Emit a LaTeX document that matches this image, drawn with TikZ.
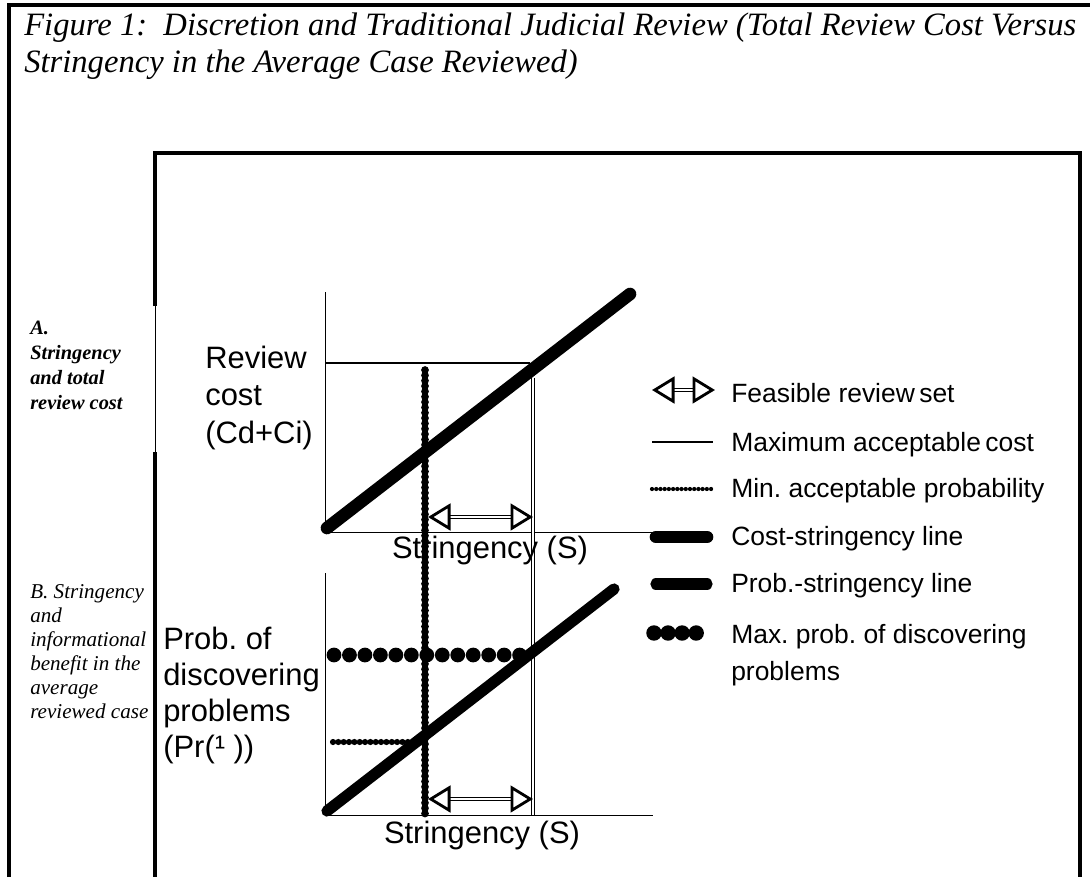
\documentclass[tikz,border=0pt]{standalone}
\usepackage{fontspec}
\setmainfont{Liberation Serif}
\newfontfamily\arialfont{Liberation Sans}
\frenchspacing
\usetikzlibrary{arrows.meta, positioning}
\tikzset{
	frameline/.style={
			line width=2.2pt
		},
	axisline/.style={
			line width=0.7pt
		},
	costline/.style={
			line width=9pt,
			line cap=round
		},
	probline/.style={
			line width=8pt,
			line cap=round
		},
	maxcostline/.style={
			line width=1.2pt
		},
	boundline/.style={
			double,
			double distance=1.4pt,
			line width=0.6pt
		},
	minprobline/.style={
			line width=5.5pt,
			line cap=round,
			dash pattern=on 0pt off 3.8pt
		},
	maxprobline/.style={
			line width=10.5pt,
			line cap=round,
			dash pattern=on 0pt off 11pt
		},
	feasarrow/.style={
			double,
			double distance=1.2pt,
			line width=1.1pt,
			{Triangle[open, fill=white, length=16pt, width=19pt, line width=2pt]}-{Triangle[open, fill=white, length=16pt, width=19pt, line width=2pt]}
		}
}
\tikzset{
	titletext/.style={font=\fontsize{23.2}{26.2}\selectfont\itshape, inner sep=0pt, align=left, anchor=base west},
	paneltext/.style={font=\fontsize{15}{17}\selectfont\itshape, inner sep=0pt, align=left, anchor=base west},
	axistext/.style={font=\arialfont\fontsize{22}{26.5}\selectfont, inner sep=0pt, align=left, anchor=base west},
	keytext/.style={font=\arialfont\fontsize{18.8}{26}\selectfont, inner sep=0pt, align=left, anchor=base west}
}

\begin{document}
\begin{tikzpicture}[x=0.025cm, y=-0.025cm]

              \useasboundingbox (0,0) rectangle (1090,877);

              % frames
              \draw[frameline] (9,877) -- (9,5) -- (1090,5);
              \draw[frameline] (155,306) -- (155,153) -- (1080,153) -- (1080,877);
              \draw[axisline] (155,306) -- (155,452);
              \draw[frameline] (155,452) -- (155,877);

              % multi-line nodes sit on their last baseline
              \node[titletext] (title) at (24,72) {Figure 1:\ \ Discretion and Traditional Judicial Review (Total Review Cost Versus\\Stringency in the Average Case Reviewed)};

              \node[paneltext, font=\fontsize{14.5}{17.7}\selectfont\bfseries\itshape] (pa) at (30,409) {A.\\Stringency\\and total\\review cost};
              \node[paneltext] (pb) at (30,718) {B. Stringency\\and\\informational\\benefit in the\\average\\reviewed case};

              % upper panel
              \coordinate (ua) at (325,292);
              \coordinate (uo) at (325,532);
              \coordinate (ux) at (653,532);
              \coordinate (mc) at (530,363);
              \coordinate (mcy) at (325,363);
              \coordinate (c1) at (327,528);
              \coordinate (c2) at (630,294);

              % lower panel
              \coordinate (la) at (325,573);
              \coordinate (lo) at (325,815);
              \coordinate (lx) at (653,815);
              \coordinate (p1) at (327,811);
              \coordinate (p2) at (614,589);

              \coordinate (bt) at (533,378);
              \coordinate (bb) at (533,815);
              \coordinate (mpt) at (425,370);
              \coordinate (mpb) at (425,817);
              \coordinate (mph1) at (333,742);
              \coordinate (mph2) at (425,742);
              \coordinate (xp1) at (334,655);
              \coordinate (xp2) at (520,655);

              \draw[axisline] (ua) -- (uo) -- (ux);
              \draw[axisline] (la) -- (lo) -- (lx);
              \draw[maxcostline] (mcy) -- (mc);
              \draw[boundline] (bt) -- (bb);
              \draw[maxprobline] (xp1) -- (xp2);
              \draw[costline] (c1) -- (c2);
              \draw[probline] (p1) -- (p2);
              \draw[minprobline, line width=4.4pt] (mph1) -- (mph2);
              \draw[minprobline] (mpt) -- (mpb);

              \coordinate (fu1) at (428,517);
              \coordinate (fu2) at (533,517);
              \coordinate (fl1) at (428,799);
              \coordinate (fl2) at (533,799);
              \draw[feasarrow] (fu1) -- (fu2);
              \draw[feasarrow] (fl1) -- (fl2);

              \node[axistext] (rc) at (205,443) {Review\\cost\\(Cd+Ci)};
              \node[axistext, font=\arialfont\fontsize{22}{25.5}\selectfont] (pd) at (163,757) {Prob. of\\discovering\\problems\\(Pr(¹ ))};
              \node[axistext, anchor=base] (su) at (490,558) {Stringency (S)};
              \node[axistext, anchor=base] (sl) at (482,843) {Stringency (S)};

              % legend
              \coordinate (k1a) at (652,390);
              \coordinate (k1b) at (715,390);
              \coordinate (k2a) at (652,442);
              \coordinate (k2b) at (713,442);
              \coordinate (k3a) at (652,489);
              \coordinate (k3b) at (712,489);
              \coordinate (k4a) at (656,537);
              \coordinate (k4b) at (707,537);
              \coordinate (k5a) at (656,584);
              \coordinate (k5b) at (707,584);
              \coordinate (k6a) at (654,633);
              \coordinate (k6b) at (698,633);

              \draw[feasarrow] (k1a) -- (k1b);
              \draw[line width=1pt] (k2a) -- (k2b);
              \draw[minprobline, line width=3pt, dash pattern=on 0pt off 3pt] (k3a) -- (k3b);
              \draw[costline] (k4a) -- (k4b);
              \draw[probline] (k5a) -- (k5b);
              \draw[maxprobline, line width=11pt, dash pattern=on 0pt off 10pt] (k6a) -- (k6b);

              \node[keytext] (t1) at (731,402) {Feasible review\,set};
              \node[keytext] (t2) at (731,451) {Maximum acceptable\,cost};
              \node[keytext] (t3) at (731,497) {Min. acceptable probability};
              \node[keytext] (t4) at (731,545) {Cost-stringency line};
              \node[keytext] (t5) at (731,592) {Prob.-stringency line};
              \node[keytext] (t6) at (731,680) {Max. prob. of discovering\\problems};

            \end{tikzpicture}
\end{document}
